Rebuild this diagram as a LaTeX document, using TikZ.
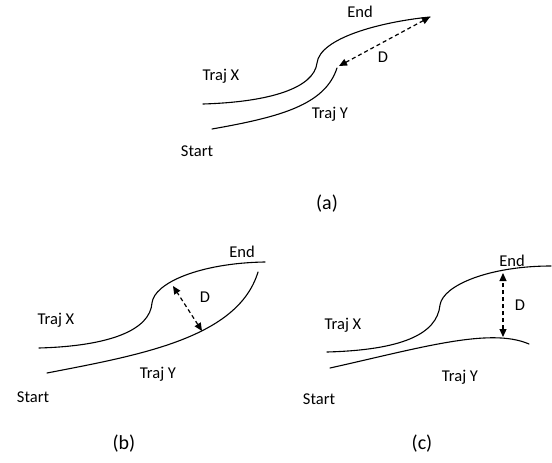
\documentclass[tikz,border=0pt]{standalone}
\usepackage{fontspec}
\setmainfont{Carlito}
\usetikzlibrary{arrows.meta}
\begin{document}
\begin{tikzpicture}[x=1pt,y=-1pt,
  traj/.style={line width=1.1pt, line cap=round},
  dist/.style={line width=1.2pt, dash pattern=on 4pt off 3pt, {Triangle[length=8pt,width=7pt]}-{Triangle[length=8pt,width=7pt]}},
  lbl/.style={font=\fontsize{16.5}{18}\selectfont, inner sep=0pt},
  panelcap/.style={font=\fontsize{20}{22}\selectfont, inner sep=0pt}]
\useasboundingbox (0,0) rectangle (552,463);
% ---------- (a)
\draw[traj] (203,104) .. controls (270,102) and (314,88) .. (317,63)
                      .. controls (320,38) and (380,22) .. (430,17);
\draw[traj] (212,129) .. controls (280,117) and (325,105) .. (337,68);
\coordinate (a1) at (430,17);
\coordinate (a2) at (339,66);
\draw[dist] (a2) -- (a1);
\node[lbl] (aend) at (360,12) {End};
\node[lbl] (aD) at (383,57) {D};
\node[lbl] (aX) at (221,76) {Traj X};
\node[lbl] (aY) at (330,114) {Traj Y};
\node[lbl] (aS) at (197,151) {Start};
\node[panelcap] (acap) at (327,204) {(a)};
% ---------- (b)
\draw[traj] (39,348) .. controls (110,346) and (150,330) .. (152,303)
                     .. controls (154,283) and (200,263) .. (265,262);
\draw[traj] (47,373) .. controls (140,355) and (238,338) .. (258,272);
\coordinate (b1) at (173,286);
\coordinate (b2) at (202,331);
\draw[dist] (b2) -- (b1);
\node[lbl] (bend) at (242,252) {End};
\node[lbl] (bD) at (205,297) {D};
\node[lbl] (bX) at (56,320) {Traj X};
\node[lbl] (bY) at (158,374) {Traj Y};
\node[lbl] (bS) at (33,397) {Start};
\node[panelcap] (bcap) at (124,444) {(b)};
% ---------- (c)
\draw[traj] (327,352) .. controls (400,350) and (437,335) .. (440,305)
                      .. controls (443,285) and (490,266) .. (551,266);
\draw[traj] (330,368) .. controls (420,348) and (490,327) .. (529,344);
\coordinate (c1) at (503,273);
\coordinate (c2) at (503,337);
\draw[dist] (c2) -- (c1);
\node[lbl] (cend) at (512,261) {End};
\node[lbl] (cD) at (520,305) {D};
\node[lbl] (cX) at (343,325) {Traj X};
\node[lbl] (cY) at (460,377) {Traj Y};
\node[lbl] (cS) at (319,399) {Start};
\node[panelcap] (ccap) at (422,444) {(c)};
\end{tikzpicture}
\end{document}
